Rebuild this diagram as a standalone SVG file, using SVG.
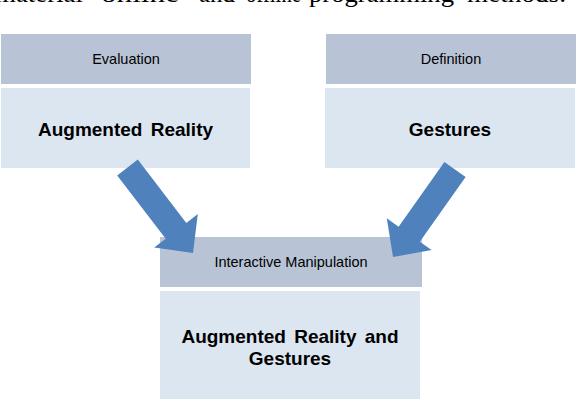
<svg xmlns="http://www.w3.org/2000/svg" width="576" height="402" viewBox="0 0 576 402">
<style>
.hdr{fill:#B8C4D6}
.body{fill:#DCE6F1}
.small{font-family:"Liberation Sans",Arial,sans-serif;font-size:14.5px;fill:#000;text-anchor:middle}
.big{font-family:"Liberation Sans",Arial,sans-serif;font-size:19px;font-weight:bold;fill:#000;text-anchor:middle;word-spacing:3px}
.arrow{fill:#4F81BD}
.page{font-family:"Liberation Serif","Times New Roman",serif;font-size:26px;fill:#000}
</style>
<rect width="576" height="402" fill="#fff"/>
<g id="page-text">
<text class="page" x="-5" y="2" textLength="88" lengthAdjust="spacingAndGlyphs">material</text>
<text class="page" x="101" y="2" textLength="78" lengthAdjust="spacingAndGlyphs">online</text>
<text class="page" x="199" y="2" textLength="36" lengthAdjust="spacingAndGlyphs">and</text>
<text class="page" x="246" y="2" textLength="55" lengthAdjust="spacingAndGlyphs">offline</text>
<text class="page" x="309" y="2" textLength="145" lengthAdjust="spacingAndGlyphs">programming</text>
<text class="page" x="467" y="2" textLength="99" lengthAdjust="spacingAndGlyphs">methods.</text>
</g>
<g id="evaluation">
<rect class="hdr" x="1" y="34" width="250" height="50"/>
<text class="small" x="126" y="64">Evaluation</text>
<rect class="body" x="1" y="88" width="249" height="80"/>
<text class="big" x="125.5" y="136">Augmented Reality</text>
</g>
<g id="definition">
<rect class="hdr" x="326" y="34" width="250" height="50"/>
<text class="small" x="451" y="64">Definition</text>
<rect class="body" x="325" y="88" width="250" height="80"/>
<text class="big" x="450" y="136">Gestures</text>
</g>
<g id="interactive">
<rect class="hdr" x="160" y="237" width="262" height="50"/>
<text class="small" x="291" y="267">Interactive Manipulation</text>
<rect class="body" x="160" y="291" width="260" height="108"/>
<text class="big" x="290" y="343">Augmented Reality and</text>
<text class="big" x="290" y="365">Gestures</text>
</g>
<g id="connectors">
<polygon class="arrow" points="137.8,159.6 186.3,222.9 197.8,214.1 193,253 154.2,247.5 165.7,238.7 117.2,175.4"/>
<polygon class="arrow" points="444.4,162 398.6,226.7 386.8,218.3 393,257 431.6,250.1 419.8,241.7 465.6,177"/>
</g>
</svg>
